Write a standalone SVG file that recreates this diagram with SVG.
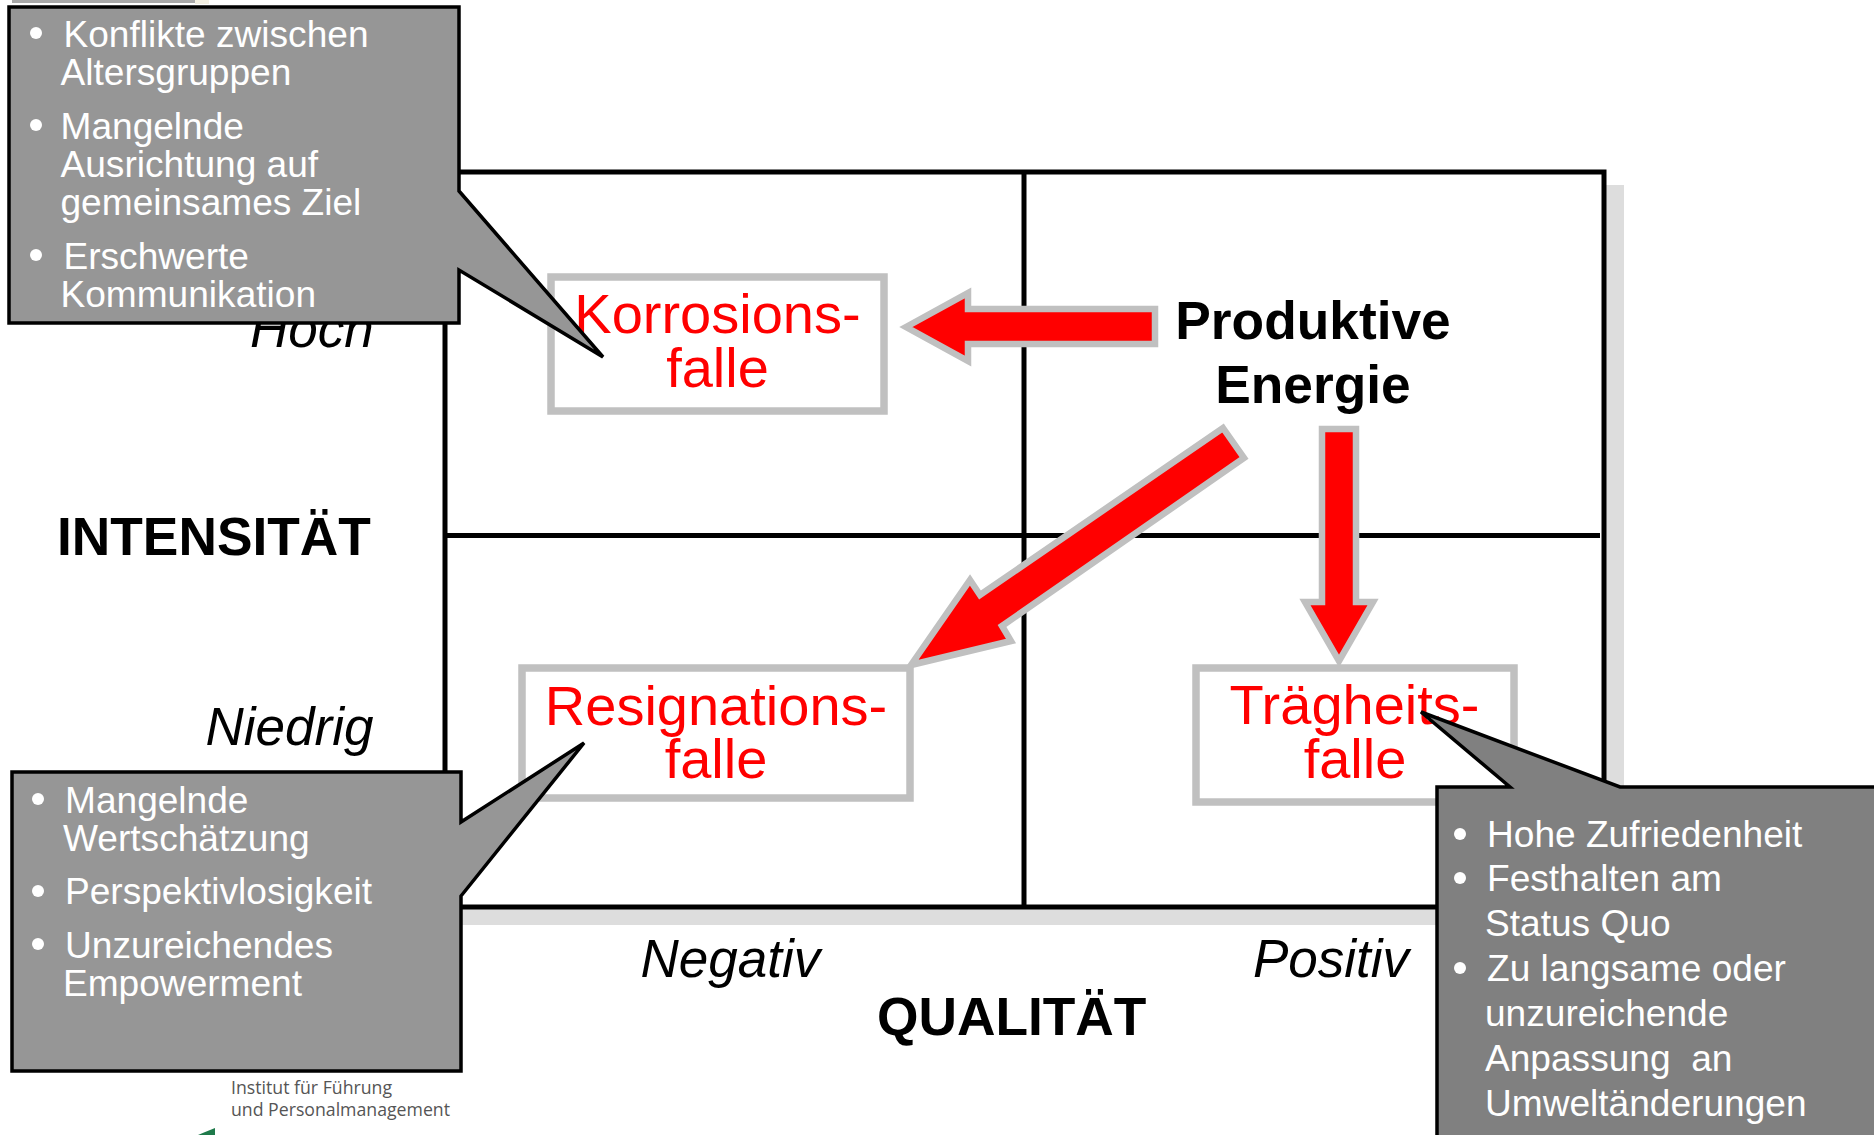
<svg xmlns="http://www.w3.org/2000/svg" width="1874" height="1135" viewBox="0 0 1874 1135">
<style>
text{font-family:"Liberation Sans",Arial,sans-serif}
.ax{font-size:53.300px;font-weight:bold;fill:#000}
.lv{font-size:53px;font-style:italic;fill:#000}
.trap{font-size:56px;fill:#f00;text-anchor:middle}
.box{fill:#fff;stroke:#c0c0c0;stroke-width:7.500}
.arrow{fill:#f00;stroke:#c0c0c0;stroke-width:6.500}
.grid{stroke:#000;stroke-width:5}
.call{stroke:#000;stroke-width:3.500}
.ct{font-size:37.100px;fill:#fff}
.logo{font-family:"Open Sans","Noto Sans",sans-serif;font-size:17.700px;fill:#555}
</style>
<rect width="1874" height="1135" fill="#fff"/>
<rect x="12" y="0" width="183" height="3" fill="#a8a8a8"/>
<rect x="195" y="0" width="14" height="4" fill="#f3efe2"/>
<g id="matrix">
<rect x="455" y="185" width="1169" height="740" fill="#ddd"/>
<rect x="445" y="172" width="1159" height="735" fill="#fff" class="grid"/>
<path class="grid" fill="none" d="M1024 172V907M445 535.500H1600"/>
</g>
<g id="axis-labels">
<text class="ax" x="57" y="555">INTENSITÄT</text>
<text class="ax" x="877" y="1035">QUALITÄT</text>
<text class="lv" x="250" y="347">Hoch</text>
<text class="lv" x="205.500" y="745">Niedrig</text>
<text class="lv" x="640.500" y="977">Negativ</text>
<text class="lv" x="1253" y="977">Positiv</text>
</g>
<g id="korrosionsfalle">
<rect class="box" x="551" y="277" width="333" height="134"/>
<text class="trap" x="717.500" y="333">Korrosions-</text>
<text class="trap" x="717.500" y="387">falle</text>
</g>
<g id="resignationsfalle">
<rect class="box" x="522" y="668" width="388" height="130"/>
<text class="trap" x="716" y="725">Resignations-</text>
<text class="trap" x="716" y="778">falle</text>
</g>
<g id="traegheitsfalle">
<rect class="box" x="1196" y="668" width="318" height="134"/>
<text class="trap" x="1354.500" y="724">Trägheits-</text>
<text class="trap" x="1355" y="778">falle</text>
</g>
<g id="produktive-energie">
<text class="ax" x="1313" y="339" text-anchor="middle">Produktive</text>
<text class="ax" x="1313" y="403" text-anchor="middle">Energie</text>
</g>
<g id="connectors">
<path class="arrow" d="M906 327L968 293V309H1155V344H968V361Z"/>
<path class="arrow" d="M1223 428L1244 458L1002 626L1011 641L911 665L970 580L980 595Z"/>
<path class="arrow" d="M1322 429H1356V602H1373L1339 661L1305 602H1322Z"/>
</g>
<g id="callout-konflikte">
<path class="call" fill="#969696" d="M9 7H459V191L603 357L459 270V323H9Z"/>
<g fill="#fff"><circle cx="36" cy="33" r="6"/><circle cx="36" cy="125" r="6"/><circle cx="36" cy="255" r="6"/></g>
<text class="ct" x="63.500" y="47">Konflikte zwischen</text>
<text class="ct" x="60.500" y="85">Altersgruppen</text>
<text class="ct" x="60.500" y="139">Mangelnde</text>
<text class="ct" x="60.500" y="177">Ausrichtung auf</text>
<text class="ct" x="60.500" y="215">gemeinsames Ziel</text>
<text class="ct" x="63.500" y="269">Erschwerte</text>
<text class="ct" x="60.500" y="307">Kommunikation</text>
</g>
<g id="callout-wertschaetzung">
<path class="call" fill="#969696" d="M12 772H461V822L584 743L461 896V1071H12Z"/>
<g fill="#fff"><circle cx="38" cy="799" r="6"/><circle cx="38" cy="891" r="6"/><circle cx="38" cy="944" r="6"/></g>
<text class="ct" x="65" y="813">Mangelnde</text>
<text class="ct" x="63" y="851">Wertschätzung</text>
<text class="ct" x="65" y="904">Perspektivlosigkeit</text>
<text class="ct" x="65" y="958">Unzureichendes</text>
<text class="ct" x="63" y="996">Empowerment</text>
</g>
<g id="callout-zufriedenheit">
<path class="call" fill="#808080" d="M1437 1140V787H1510L1421 712L1620 787H1880V1140Z"/>
<g fill="#fff"><circle cx="1460" cy="834" r="6"/><circle cx="1460" cy="878" r="6"/><circle cx="1460" cy="968" r="6"/></g>
<text class="ct" x="1487" y="847">Hohe Zufriedenheit</text>
<text class="ct" x="1487" y="891">Festhalten am</text>
<text class="ct" x="1485" y="936">Status Quo</text>
<text class="ct" x="1487" y="981">Zu langsame oder</text>
<text class="ct" x="1485" y="1026">unzureichende</text>
<text class="ct" x="1485" y="1071" xml:space="preserve">Anpassung  an</text>
<text class="ct" x="1485" y="1116">Umweltänderungen</text>
</g>
<g id="institut-logo">
<text class="logo" x="231" y="1094">Institut für Führung</text>
<text class="logo" x="231" y="1116">und Personalmanagement</text>
<path d="M198 1135Q205 1132 215 1128V1135Z" fill="#1e7a4a"/>
</g>
</svg>
